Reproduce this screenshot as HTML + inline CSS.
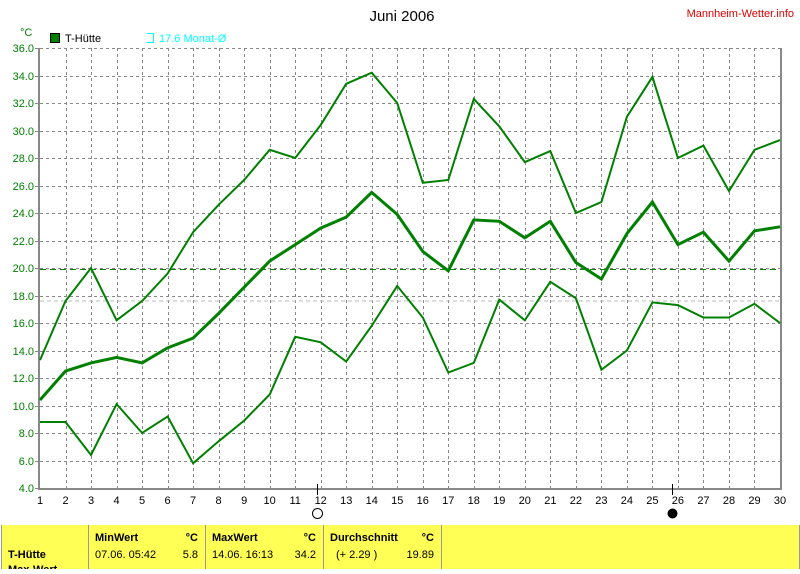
<!DOCTYPE html>
<html><head><meta charset="utf-8"><style>
body{margin:0;background:#fff;width:800px;height:569px;overflow:hidden;font-family:"Liberation Sans",sans-serif}
svg text{font-family:"Liberation Sans",sans-serif}
</style></head><body>
<svg id="s" width="800" height="569" viewBox="0 0 800 569" xmlns="http://www.w3.org/2000/svg">
<rect width="800" height="569" fill="#fff"/>
<text x="402" y="21" font-size="15" text-anchor="middle">Juni 2006</text>
<text x="794" y="17" font-size="11" fill="#e00000" text-anchor="end">Mannheim-Wetter.info</text>
<text x="20" y="36" font-size="11" fill="#008000">°C</text>
<rect x="50.5" y="33.5" width="9" height="9" fill="#008000" stroke="#000"/>
<text x="65" y="42" font-size="11">T-Hütte</text>
<path d="M146.5 33.5h7v9h-7" fill="none" stroke="#00ffff"/>
<text x="159" y="42" font-size="11" fill="#00ffff">17.6 Monat-Ø</text>
<g id="g"></g>
<rect x="1" y="525" width="799" height="44" fill="#ffff55"/>
<g stroke="#999"><line x1="1.5" y1="525" x2="1.5" y2="569"/><line x1="88.5" y1="525" x2="88.5" y2="569"/><line x1="205.5" y1="525" x2="205.5" y2="569"/><line x1="323.5" y1="525" x2="323.5" y2="569"/><line x1="441.5" y1="525" x2="441.5" y2="569"/><line x1="799.5" y1="525" x2="799.5" y2="569"/></g>
<g font-size="11" font-weight="bold">
<text x="95" y="541">MinWert</text><text x="198" y="541" text-anchor="end">°C</text>
<text x="212" y="541">MaxWert</text><text x="316" y="541" text-anchor="end">°C</text>
<text x="330" y="541">Durchschnitt</text><text x="434" y="541" text-anchor="end">°C</text>
<text x="8" y="558">T-Hütte</text><text x="8" y="573">Max-Wert</text>
</g>
<g font-size="11">
<text x="95" y="558">07.06.  05:42</text><text x="198" y="558" text-anchor="end">5.8</text>
<text x="212" y="558">14.06.  16:13</text><text x="316" y="558" text-anchor="end">34.2</text>
<text x="336" y="558">(+ 2.29 )</text><text x="434" y="558" text-anchor="end">19.89</text>
</g>
</svg>
<script>
var g=document.getElementById('g'),h='';
function X(d){return 40+(d-1)*740/29}
function Y(v){return 488-(v-4)*13.75}
for(var d=2;d<=29;d++){var x=Math.round(X(d))+.5;h+='<line x1="'+x+'" y1="48" x2="'+x+'" y2="488" stroke="#888" stroke-dasharray="3,3"/>';}
for(var v=6;v<=36;v+=2){var y=Math.round(Y(v))+.5;h+='<line x1="40" y1="'+y+'" x2="780" y2="'+y+'" stroke="#888" stroke-dasharray="3,3"/>';}
for(var v=4;v<=36;v+=2){var y=Math.round(Y(v));h+='<line x1="35" y1="'+(y+.5)+'" x2="40" y2="'+(y+.5)+'" stroke="#888"/><text x="34" y="'+(y+4)+'" font-size="11" fill="#008000" text-anchor="end">'+v.toFixed(1)+'</text>';}
for(var d=1;d<=30;d++){h+='<text x="'+X(d)+'" y="504" font-size="11" text-anchor="middle">'+d+'</text>';}
h+='<line x1="40" y1="'+Y(17.6)+'" x2="780" y2="'+Y(17.6)+'" stroke="#bbb" stroke-dasharray="4,3"/>';
h+='<line x1="40" y1="'+Y(19.89)+'" x2="780" y2="'+Y(19.89)+'" stroke="#008000" stroke-dasharray="6,4"/>';
h+='<path d="M39 48V489H781V48" fill="none" stroke="#888" stroke-width="2"/>';
h+='<line x1="317.5" y1="484" x2="317.5" y2="495" stroke="#000"/><circle cx="317.5" cy="513.5" r="5" fill="#fff" stroke="#000"/>';
h+='<line x1="672.5" y1="484" x2="672.5" y2="495" stroke="#000"/><circle cx="672.5" cy="513.5" r="5" fill="#000"/>';
var mx=[13.3,17.6,20.0,16.2,17.6,19.6,22.6,24.6,26.4,28.6,28.0,30.4,33.4,34.2,32.0,26.2,26.4,32.3,30.3,27.7,28.5,24.0,24.8,31.0,33.9,28.0,28.9,25.6,28.6,29.3];
var av=[10.4,12.5,13.1,13.5,13.1,14.2,14.9,16.7,18.6,20.5,21.7,22.9,23.7,25.5,23.9,21.2,19.8,23.5,23.4,22.2,23.4,20.4,19.2,22.5,24.8,21.7,22.6,20.5,22.7,23.0];
var mn=[8.8,8.8,6.4,10.1,8.0,9.2,5.8,7.4,8.9,10.8,15.0,14.6,13.2,15.8,18.7,16.4,12.4,13.1,17.7,16.2,19.0,17.8,12.6,14.0,17.5,17.3,16.4,16.4,17.4,16.0];
function P(a,w){return '<polyline fill="none" stroke="#008000" stroke-width="'+w+'" points="'+a.map(function(v,i){return X(i+1).toFixed(1)+','+Y(v).toFixed(1)}).join(' ')+'"/>';}
h+=P(mx,2)+P(av,3)+P(mn,2);
g.innerHTML=h;
</script>
</body></html>
